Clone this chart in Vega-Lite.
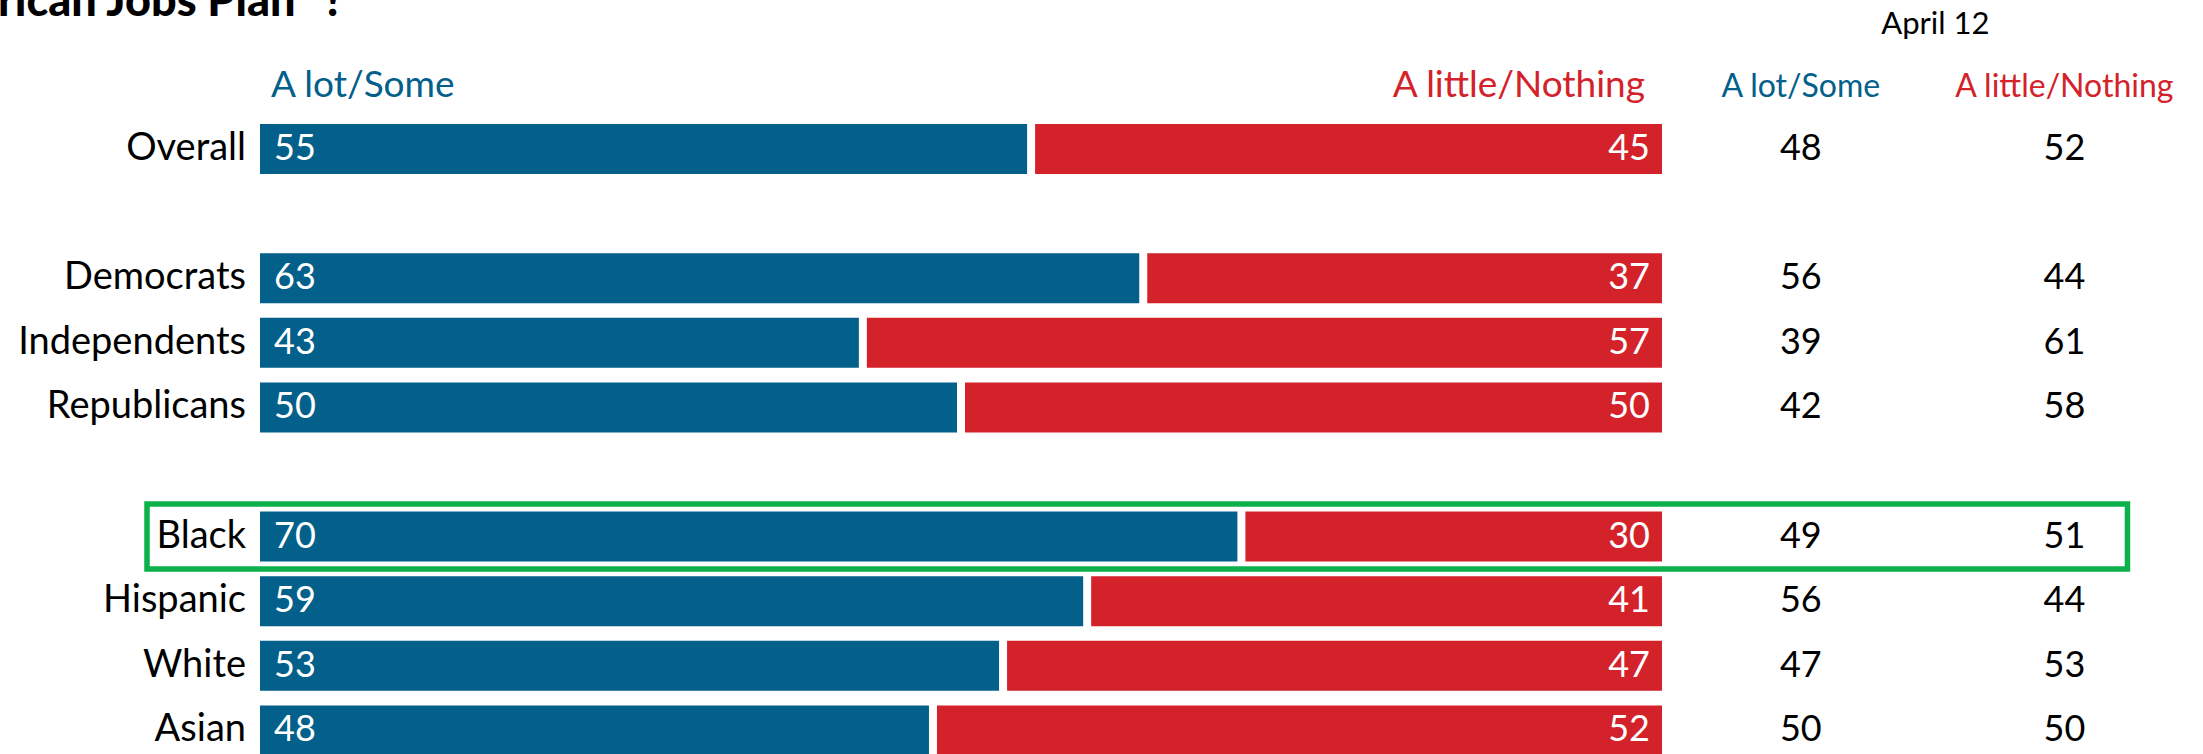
{
  "$schema": "https://vega.github.io/schema/vega-lite/v6.json",
  "width": 2203,
  "height": 754,
  "autosize": {"type": "none"},
  "padding": 0,
  "background": "white",
  "config": {"view": {"stroke": null}, "font": "Lato", "text": {"font": "Lato"}},
  "datasets": {
    "rows": [
      {"row": "Overall", "some": 55, "little": 45, "prev_some": 48, "prev_little": 52, "hl": false},
      {"row": "Democrats", "some": 63, "little": 37, "prev_some": 56, "prev_little": 44, "hl": false},
      {"row": "Independents", "some": 43, "little": 57, "prev_some": 39, "prev_little": 61, "hl": false},
      {"row": "Republicans", "some": 50, "little": 50, "prev_some": 42, "prev_little": 58, "hl": false},
      {"row": "Black", "some": 70, "little": 30, "prev_some": 49, "prev_little": 51, "hl": true},
      {"row": "Hispanic", "some": 59, "little": 41, "prev_some": 56, "prev_little": 44, "hl": false},
      {"row": "White", "some": 53, "little": 47, "prev_some": 47, "prev_little": 53, "hl": false},
      {"row": "Asian", "some": 48, "little": 52, "prev_some": 50, "prev_little": 50, "hl": false}
    ],
    "header": [{"row": "header"}],
    "date": [{"row": "date"}]
  },
  "data": {"name": "rows"},
  "layer": [
    {
      "transform": [
        {"fold": ["some", "little"], "as": ["key", "value"]},
        {"stack": "value", "groupby": ["row"], "sort": [{"field": "key", "order": "descending"}], "as": ["v0", "v1"]},
        {"filter": "datum.key === 'some'"}
      ],
      "mark": {"type": "bar", "color": "#02608b", "height": {"band": 0.774}, "x2Offset": -4},
      "encoding": {
        "y": {"field": "row", "type": "nominal", "scale": {"domain": ["date", "header", "Overall", "s1", "Democrats", "Independents", "Republicans", "s2", "Black", "Hispanic", "White", "Asian"], "range": [-12.5, 762.7], "paddingInner": 0, "paddingOuter": 0}, "axis": null},
        "x": {"field": "v0", "type": "quantitative", "scale": {"domain": [0, 100], "range": [260, 1662], "nice": false, "zero": false}, "axis": null},
        "x2": {"field": "v1"}
      }
    },
    {
      "transform": [
        {"fold": ["some", "little"], "as": ["key", "value"]},
        {"stack": "value", "groupby": ["row"], "sort": [{"field": "key", "order": "descending"}], "as": ["v0", "v1"]},
        {"filter": "datum.key === 'little'"}
      ],
      "mark": {"type": "bar", "color": "#d3222a", "height": {"band": 0.774}, "xOffset": 4},
      "encoding": {
        "y": {"field": "row", "type": "nominal"},
        "x": {"field": "v0", "type": "quantitative"},
        "x2": {"field": "v1"}
      }
    },
    {
      "mark": {"type": "text", "align": "left", "baseline": "middle", "dx": 14, "fontSize": 36, "color": "white"},
      "encoding": {
        "y": {"field": "row", "type": "nominal"},
        "x": {"datum": 0, "type": "quantitative"},
        "text": {"field": "some"}
      }
    },
    {
      "mark": {"type": "text", "align": "right", "baseline": "middle", "dx": -12, "fontSize": 36, "color": "white"},
      "encoding": {
        "y": {"field": "row", "type": "nominal"},
        "x": {"datum": 100, "type": "quantitative"},
        "text": {"field": "little"}
      }
    },
    {
      "mark": {"type": "text", "align": "right", "baseline": "middle", "dx": -14, "fontSize": 38, "color": "black"},
      "encoding": {
        "y": {"field": "row", "type": "nominal"},
        "x": {"datum": 0, "type": "quantitative"},
        "text": {"field": "row"}
      }
    },
    {
      "mark": {"type": "text", "align": "center", "baseline": "middle", "fontSize": 36, "color": "black"},
      "encoding": {
        "y": {"field": "row", "type": "nominal"},
        "x": {"datum": 109.9, "type": "quantitative"},
        "text": {"field": "prev_some"}
      }
    },
    {
      "mark": {"type": "text", "align": "center", "baseline": "middle", "fontSize": 36, "color": "black"},
      "encoding": {
        "y": {"field": "row", "type": "nominal"},
        "x": {"datum": 128.7, "type": "quantitative"},
        "text": {"field": "prev_little"}
      }
    },
    {
      "transform": [{"filter": "datum.hl"}],
      "mark": {"type": "bar", "fillOpacity": 0, "stroke": "#0db14b", "strokeWidth": 5.5, "height": {"band": 1.006}},
      "encoding": {
        "y": {"field": "row", "type": "nominal"},
        "x": {"datum": -8.06, "type": "quantitative"},
        "x2": {"datum": 133.2}
      }
    },
    {
      "data": {"name": "header"},
      "mark": {"type": "text", "text": "A lot/Some", "align": "left", "baseline": "middle", "dx": 11, "dy": 2, "fontSize": 37, "color": "#02608b"},
      "encoding": {
        "y": {"field": "row", "type": "nominal"},
        "x": {"datum": 0, "type": "quantitative"}
      }
    },
    {
      "data": {"name": "header"},
      "mark": {"type": "text", "text": "A little/Nothing", "align": "right", "baseline": "middle", "dx": -17, "dy": 2, "fontSize": 37, "color": "#d3222a"},
      "encoding": {
        "y": {"field": "row", "type": "nominal"},
        "x": {"datum": 100, "type": "quantitative"}
      }
    },
    {
      "data": {"name": "header"},
      "mark": {"type": "text", "text": "A lot/Some", "align": "center", "baseline": "middle", "dy": 3, "fontSize": 32, "color": "#02608b"},
      "encoding": {
        "y": {"field": "row", "type": "nominal"},
        "x": {"datum": 109.9, "type": "quantitative"}
      }
    },
    {
      "data": {"name": "header"},
      "mark": {"type": "text", "text": "A little/Nothing", "align": "center", "baseline": "middle", "dy": 3, "fontSize": 32, "color": "#d3222a"},
      "encoding": {
        "y": {"field": "row", "type": "nominal"},
        "x": {"datum": 128.7, "type": "quantitative"}
      }
    },
    {
      "data": {"name": "date"},
      "mark": {"type": "text", "text": "April 12", "align": "center", "baseline": "middle", "dy": 5, "fontSize": 31, "color": "black"},
      "encoding": {
        "y": {"field": "row", "type": "nominal"},
        "x": {"datum": 119.5, "type": "quantitative"}
      }
    },
    {
      "data": {"name": "date"},
      "mark": {"type": "text", "text": "How much have you heard about the “American Jobs Plan” ?", "align": "right", "baseline": "alphabetic", "dy": -4, "fontSize": 45, "fontWeight": 900, "color": "black"},
      "encoding": {
        "y": {"field": "row", "type": "nominal"},
        "x": {"datum": 6.0, "type": "quantitative"}
      }
    }
  ]
}
